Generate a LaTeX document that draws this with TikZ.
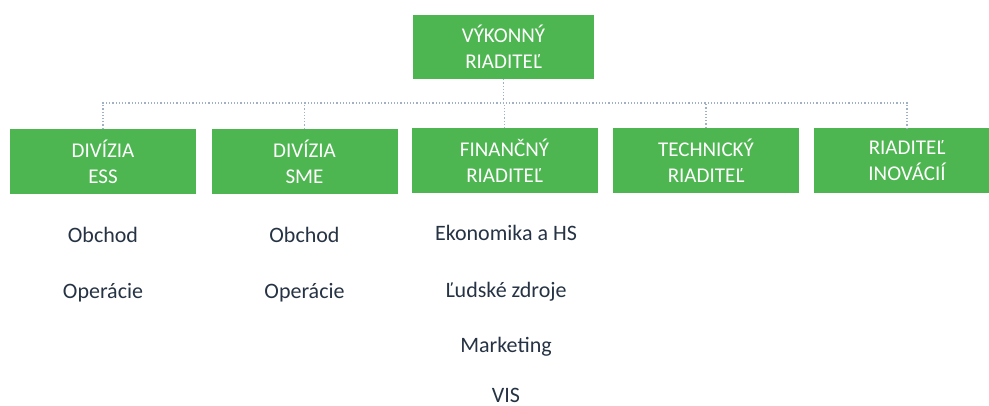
\documentclass[tikz,border=0pt]{standalone}
\usepackage{fontspec}
\setmainfont{Carlito}
\definecolor{boxgreen}{HTML}{4DB651}
\definecolor{txt}{HTML}{263344}
\definecolor{conn}{HTML}{9FB1C4}
\begin{document}
\begin{tikzpicture}[x=1pt,y=-1pt,
  box/.style={fill=boxgreen, text=white, minimum width=186pt, minimum height=65pt, inner sep=0pt, align=center, font=\fontsize{21}{26}\selectfont},
  item/.style={text=txt, font=\fontsize{22}{26}\selectfont, inner sep=0pt, anchor=mid},
  link/.style={draw=conn, line width=1.2pt, dotted}]
\clip (0,0) rectangle (989,406);
\fill[white] (0,0) rectangle (989,406);
\node[box, minimum width=181pt, minimum height=64pt] (ceo) at (503.5,47) {VÝKONNÝ\\RIADITEĽ};
\node[box] (ess) at (103,161.5) {DIVÍZIA\\ESS};
\node[box] (sme) at (304.5,161.5) {DIVÍZIA\\SME};
\node[box] (fin) at (504.5,161) {FINANČNÝ\\RIADITEĽ};
\node[box] (tech) at (706,160.5) {TECHNICKÝ\\RIADITEĽ};
\node[box] (inn) at (907,161) {RIADITEĽ\\INOVÁCIÍ};
\coordinate (bus) at (0,103);
\draw[link] (ceo.south) -- (ceo.south |- bus);
\draw[link] (ess.north) -- (ess.north |- bus) -- (inn.north |- bus) -- (inn.north);
\draw[link] (sme.north) -- (sme.north |- bus);
\draw[link] (fin.north) -- (fin.north |- bus);
\draw[link] (tech.north) -- (tech.north |- bus);
\node[item] (e1) at (103,240) {Obchod};
\node[item] (e2) at (103,296) {Operácie};
\node[item] (s1) at (304.5,240) {Obchod};
\node[item] (s2) at (304.5,296) {Operácie};
\node[item] (f1) at (506,238) {Ekonomika a HS};
\node[item] (f2) at (506,295) {Ľudské zdroje};
\node[item] (f3) at (506,350) {Marketing};
\node[item] (f4) at (506,400) {VIS};
\end{tikzpicture}
\end{document}
